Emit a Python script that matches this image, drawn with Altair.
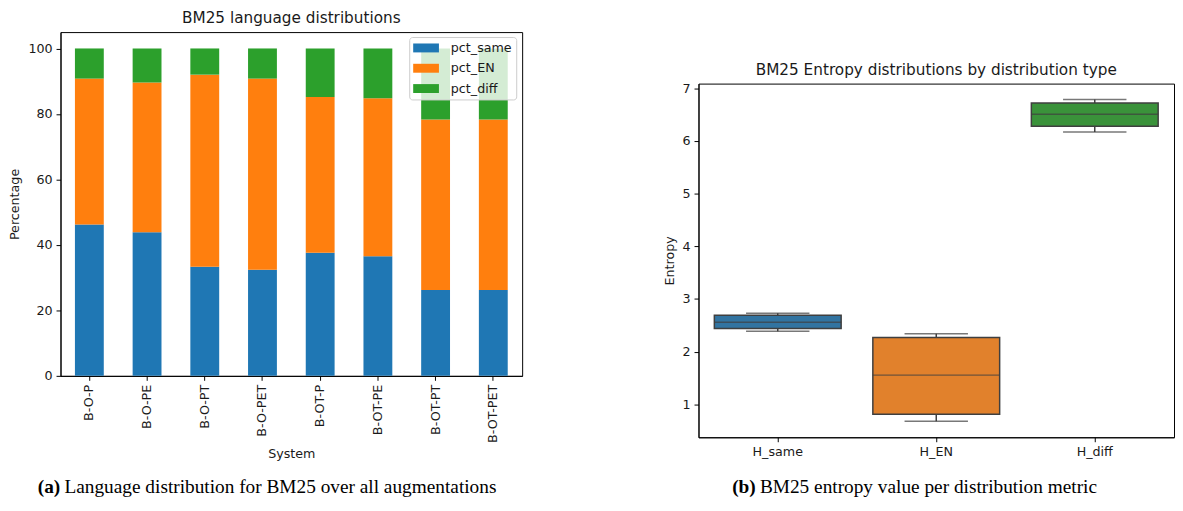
import altair as alt
import pandas as pd

# ---------------- data ----------------
systems = ["B-O-P", "B-O-PE", "B-O-PT", "B-O-PET", "B-OT-P", "B-OT-PE", "B-OT-PT", "B-OT-PET"]
pct_same = [46.2, 43.9, 33.3, 32.4, 37.6, 36.5, 26.2, 26.2]
pct_EN = [44.6, 45.7, 58.7, 58.4, 47.6, 48.3, 52.1, 52.1]
pct_diff = [9.2, 10.4, 8.0, 9.2, 14.8, 15.2, 21.7, 21.7]
series = ["pct_same", "pct_EN", "pct_diff"]
bar_colors = ["#1f77b4", "#ff7f0e", "#2ca02c"]
pct_ticks = [0, 20, 40, 60, 80, 100]

dist_types = ["H_same", "H_EN", "H_diff"]
whisker_low = [2.39, 0.68, 6.17]
q1 = [2.44, 0.81, 6.28]
median = [2.56, 1.555, 6.51]
q3 = [2.69, 2.27, 6.72]
whisker_high = [2.73, 2.34, 6.79]
box_colors = ["#3274a1", "#e1812c", "#3a923a"]
entropy_ticks = [1, 2, 3, 4, 5, 6, 7]

title_left = "BM25 language distributions"
title_right = "BM25 Entropy distributions by distribution type"
caption_a = ("(a)", "Language distribution for BM25 over all augmentations")
caption_b = ("(b)", "BM25 entropy value per distribution metric")

# ---------------- tables ----------------
rows = []
for k, (name, vals) in enumerate(zip(series, [pct_same, pct_EN, pct_diff])):
    for s, v in zip(systems, vals):
        rows.append({"system": s, "series": name, "value": v, "order": k})
df_bar = pd.DataFrame(rows)

df_box = pd.DataFrame({
    "dist": dist_types, "lo": whisker_low, "q1": q1, "med": median,
    "q3": q3, "hi": whisker_high,
})
one = pd.DataFrame({"a": [0]})

FONT = "DejaVu Sans"
TXT = "#1a1a1a"
TICK_FS = 12.8
TITLE_FS = 15.4
CAP_FONT = "Liberation Serif"
CAP_FS = 19.5


def text_mark(txt, x, y, font, size, weight="normal", align="left", color="#000000"):
    return alt.Chart(one).mark_text(
        text=txt, font=font, fontSize=size, fontWeight=weight,
        align=align, baseline="alphabetic", color=color,
    ).encode(x=alt.value(x), y=alt.value(y))


# ---------------- left: stacked bars ----------------
LW, LH = 466, 347
x_left = alt.X(
    "system:N", sort=systems, title="System",
    scale=alt.Scale(paddingInner=0.5, paddingOuter=0.25),
    axis=alt.Axis(labelAngle=270, titlePadding=5),
)
y_left = alt.Y(
    "value:Q", stack="zero", title="Percentage",
    scale=alt.Scale(domain=[0, 105], nice=False),
    axis=alt.Axis(values=pct_ticks, titlePadding=6),
)
legend_left = alt.Legend(
    title=None, orient="none", legendX=352, legendY=5,
    fillColor="rgba(255,255,255,0.8)", strokeColor="#cccccc", cornerRadius=3,
    padding=4, symbolType="M-1,-0.643H2.714V0.643H-1Z", symbolSize=196,
    symbolStrokeWidth=0, labelFontSize=TICK_FS, labelFont=FONT, labelColor=TXT,
    labelOffset=24, rowPadding=6.5,
)
bars = alt.Chart(df_bar).mark_bar().encode(
    x=x_left,
    y=y_left,
    color=alt.Color("series:N", scale=alt.Scale(domain=series, range=bar_colors),
                    legend=legend_left),
    order=alt.Order("order:Q", sort="ascending"),
)

left = alt.layer(
    bars,
    text_mark(title_left, LW / 2, -9.2, FONT, TITLE_FS, align="center", color=TXT),
    text_mark(caption_a[0], -23, 464.8, CAP_FONT, CAP_FS, weight="bold"),
    text_mark(caption_a[1], 4, 464.8, CAP_FONT, CAP_FS),
).properties(width=LW, height=LH)

# ---------------- right: box plots ----------------
RW, RH = 480, 357
x_right = alt.X("dist:N", sort=dist_types, title=None,
                scale=alt.Scale(paddingInner=0, paddingOuter=0),
                axis=alt.Axis(labelAngle=0))
yscale = alt.Scale(domain=[0.375, 7.09], nice=False, zero=False)
LINE = "#3f3f3f"

whisk = alt.Chart(df_box).mark_rule(color=LINE, strokeWidth=1.5).encode(
    x=x_right,
    y=alt.Y("lo:Q", scale=yscale, title="Entropy",
            axis=alt.Axis(values=entropy_ticks, titlePadding=6)),
    y2="hi:Q",
)
box = alt.Chart(df_box).mark_bar(
    width=alt.RelativeBandSize(0.8), stroke=LINE, strokeWidth=1.5
).encode(
    x=x_right, y=alt.Y("q1:Q", scale=yscale), y2="q3:Q",
    color=alt.Color("dist:N", scale=alt.Scale(domain=dist_types, range=box_colors),
                    legend=None),
)
cap_lo = alt.Chart(df_box).mark_tick(size=64, thickness=1.5, color=LINE).encode(
    x=x_right, y=alt.Y("lo:Q", scale=yscale))
cap_hi = alt.Chart(df_box).mark_tick(size=64, thickness=1.5, color=LINE).encode(
    x=x_right, y=alt.Y("hi:Q", scale=yscale))
med = alt.Chart(df_box).mark_tick(size=128, thickness=1.5, color=LINE).encode(
    x=x_right, y=alt.Y("med:Q", scale=yscale))

right = alt.layer(
    whisk, box, cap_lo, cap_hi, med,
    text_mark(title_right, RW / 2, -8.4, FONT, TITLE_FS, align="center", color=TXT),
    text_mark(caption_b[0], 34, 413.4, CAP_FONT, CAP_FS, weight="bold"),
    text_mark(caption_b[1], 62, 413.4, CAP_FONT, CAP_FS),
).properties(width=RW, height=RH)

spacer = alt.Chart(one).mark_point(opacity=0).encode(
    x=alt.value(0), y=alt.value(0)
).properties(width=1, height=31, view=alt.ViewBackground(strokeOpacity=0))

chart = alt.hconcat(
    left, alt.vconcat(spacer, right, spacing=0), spacing=140
).resolve_scale(color="independent").properties(padding=0).configure_view(
    stroke="#000000", strokeWidth=1
).configure_axis(
    labelFont=FONT, titleFont=FONT, labelFontSize=TICK_FS, titleFontSize=TICK_FS,
    titleFontWeight="normal", labelColor=TXT, titleColor=TXT,
    domainColor="#000000", tickColor="#000000", tickSize=4.5, labelPadding=4,
    grid=False, domainWidth=1, tickWidth=1,
)

chart.save("out.html", embed_options={"renderer": "svg", "actions": False})
